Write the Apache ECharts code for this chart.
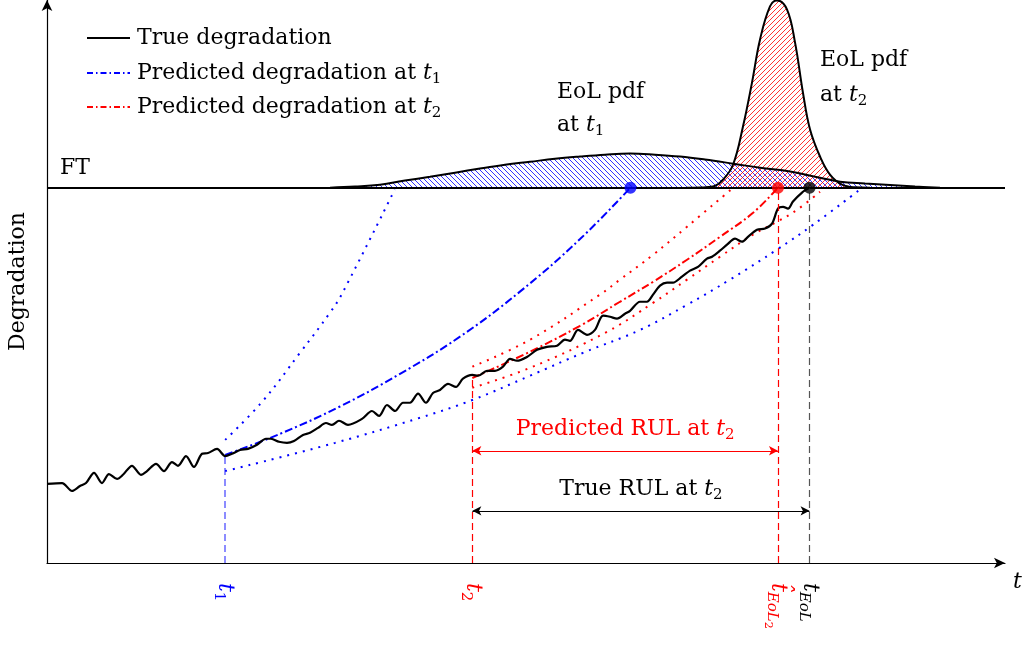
<!DOCTYPE html>
<html>
<head>
<meta charset="utf-8">
<script src="https://cdn.jsdelivr.net/npm/echarts@6/dist/echarts.min.js"></script>
<style>
  html, body { margin: 0; padding: 0; background: #fff; }
  #chart { width: 1022px; height: 646px; }
</style>
</head>
<body>
<div id="chart"></div>
<script>
// ---- Schematic values (time in arbitrary units 0..100, degradation with FT = 1) ----
const FT = 1.0;
const t1 = 18.6;        // first prediction time
const t2 = 44.4;        // second prediction time
const tEoLhat = 76.3;   // predicted end of life at t2
const tEoL = 79.6;      // true end of life
const tEoLt1 = 60.9;    // predicted end of life at t1
const rulPredLevel = 0.299;
const rulTrueLevel = 0.139;

// true (noisy) degradation path [time, degradation]
const trueDegradation = [
  [0, 0.211], [1.57, 0.213], [2.61, 0.192], [3.44, 0.205], [4.07, 0.213], [4.91, 0.240],
  [5.74, 0.213], [6.47, 0.237], [7.31, 0.224], [7.93, 0.235], [8.87, 0.259], [9.81, 0.235],
  [10.44, 0.245], [11.38, 0.264], [12.21, 0.245], [13.05, 0.269], [13.67, 0.259], [14.51, 0.285],
  [15.34, 0.256], [16.18, 0.291], [16.81, 0.293], [17.75, 0.304], [18.6, 0.285], [19.31, 0.291],
  [20.15, 0.301], [20.98, 0.304], [21.92, 0.315], [22.86, 0.331], [23.38, 0.331], [24.22, 0.323],
  [25.05, 0.320], [25.78, 0.325], [26.72, 0.341], [27.45, 0.347], [28.29, 0.360], [29.12, 0.373],
  [29.75, 0.368], [30.48, 0.379], [31.42, 0.368], [32.88, 0.384], [33.92, 0.405], [34.66, 0.392],
  [35.49, 0.421], [36.33, 0.405], [37.16, 0.427], [37.89, 0.427], [38.73, 0.451], [39.56, 0.427],
  [40.29, 0.453], [41.02, 0.461], [41.86, 0.477], [42.69, 0.469], [43.42, 0.491], [44.4, 0.501],
  [44.99, 0.499], [45.93, 0.512], [46.76, 0.512], [47.60, 0.523], [48.33, 0.544], [49.06, 0.539],
  [50.10, 0.549], [51.15, 0.568], [52.19, 0.576], [53.24, 0.579], [54.07, 0.595], [54.59, 0.592],
  [55.43, 0.621], [56.37, 0.608], [57.20, 0.621], [58.04, 0.659], [58.77, 0.656], [59.50, 0.651],
  [60.33, 0.664], [60.86, 0.672], [61.90, 0.696], [62.63, 0.696], [63.26, 0.715], [63.99, 0.739],
  [64.72, 0.747], [65.34, 0.747], [66.28, 0.763], [67.12, 0.779], [67.95, 0.789], [68.89, 0.811],
  [69.42, 0.816], [70.25, 0.832], [70.98, 0.848], [71.82, 0.864], [72.55, 0.856], [73.17, 0.869],
  [74.11, 0.888], [74.95, 0.891], [75.68, 0.904], [76.30, 0.944], [76.83, 0.949], [77.35, 0.944],
  [77.87, 0.963], [78.81, 0.987], [79.6, 1.0]
];

// prediction made at t1: mean and bounds
const predT1 = [[18.6, 0.288], [24.32, 0.344], [30.58, 0.417], [36.85, 0.504], [43.11, 0.603],
  [49.37, 0.723], [55.64, 0.863], [60.9, 1.0]];
const predT1Upper = [[18.6, 0.328], [22.44, 0.429], [26.41, 0.560], [29.54, 0.667], [30.79, 0.717],
  [36.3, 0.995]];
const predT1Lower = [[18.6, 0.245], [30.06, 0.320], [38.94, 0.387], [44.47, 0.435], [50.42, 0.499],
  [55.95, 0.560], [61.90, 0.621], [66.81, 0.688], [71.29, 0.755], [76.20, 0.835], [79.96, 0.901],
  [84.86, 0.995]];

// prediction made at t2: mean and bounds
const predT2 = [[44.4, 0.493], [50.42, 0.563], [55.64, 0.632], [59.81, 0.696], [63.26, 0.749],
  [66.81, 0.808], [70.25, 0.869], [73.70, 0.933], [76.3, 1.0]];
const predT2Upper = [[44.4, 0.523], [50.42, 0.595], [57.72, 0.715], [59.81, 0.755], [63.26, 0.821],
  [66.81, 0.896], [71.50, 0.997]];
const predT2Lower = [[44.4, 0.467], [50.42, 0.520], [58.46, 0.616], [63.26, 0.693], [66.81, 0.755],
  [70.25, 0.816], [73.70, 0.875], [76.20, 0.909], [78.29, 0.941], [80.69, 0.989]];

// end-of-life densities, height above FT [time, density height]
const eolPdfT1 = [[29.54, 0], [32.15, 0.003], [34.76, 0.008], [37.37, 0.019], [39.98, 0.029],
  [42.59, 0.040], [45.20, 0.051], [47.81, 0.061], [50.42, 0.069], [53.03, 0.077], [55.64, 0.083],
  [58.25, 0.088], [60.86, 0.091], [63.47, 0.088], [66.08, 0.083], [68.68, 0.075], [71.61, 0.064],
  [74.43, 0.053], [77.56, 0.043], [80.17, 0.029], [82.78, 0.016], [85.39, 0.011], [88.00, 0.007],
  [90.61, 0.003], [93.22, 0]];
const eolPdfT2 = [[66.8, 0], [68.16, 0.0005], [69.52, 0.003], [70.56, 0.021], [71.61, 0.061], [72.65, 0.163],
  [73.59, 0.280], [74.43, 0.395], [75.47, 0.483], [76.20, 0.499], [77.24, 0.475], [78.08, 0.387],
  [78.91, 0.253], [79.65, 0.155], [80.69, 0.083], [81.73, 0.035], [82.99, 0.008], [84.34, 0.001],
  [85.91, 0]];

// x-axis tick marks and their labels
const tickValues = [t1, t2, tEoLhat, tEoL];
const tickLabels = ['{b|t}{bs|1}', '{r|t}{rs|2}', '{r|t\u0302}{rsi|EoL}{rss|2}', '{k|t}{ksi|EoL}'];

// ---- styling helpers ----
const FONT = 'DejaVu Serif';
const BLUE = '#0000ff', RED = '#ff0000', BLACK = '#000000';

function styleSet(p, color) {
  return {
    [p + 'n']: { fontFamily: FONT, fontSize: 22, color: color },
    [p]: { fontFamily: FONT, fontSize: 22, fontStyle: 'italic', color: color },
    [p + 's']: { fontFamily: FONT, fontSize: 15, color: color, padding: [12, 0, 0, 0] },
    [p + 'si']: { fontFamily: FONT, fontSize: 15, fontStyle: 'italic', color: color, padding: [12, 0, 0, 0] },
    [p + 'ss']: { fontFamily: FONT, fontSize: 11, color: color, padding: [20, 0, 0, 0] }
  };
}
const richAll = Object.assign({}, styleSet('b', BLUE), styleSet('r', RED), styleSet('k', BLACK));

// diagonal hatch tile: dir > 0 draws "/" lines, otherwise "\" lines
function hatch(color, dir) {
  const s = 5;
  const c = document.createElement('canvas');
  c.width = s; c.height = s;
  const g = c.getContext('2d');
  g.strokeStyle = color;
  g.lineWidth = 0.8;
  for (const o of [-s, 0, s]) {
    g.beginPath();
    if (dir > 0) { g.moveTo(o, s); g.lineTo(o + s, 0); }
    else { g.moveTo(o, 0); g.lineTo(o + s, s); }
    g.stroke();
  }
  return c;
}
const blueHatch = hatch(BLUE, -1);
const redHatch = hatch(RED, 1);

const dashDot = [8, 3, 2, 3];
const dotted = [2, 6];

function curve(name, data, color, type, extra) {
  return Object.assign({
    name: name, type: 'line', data: data, symbol: 'none', smooth: 0.4,
    lineStyle: { color: color, width: 2, type: type }, silent: true, z: 3
  }, extra || {});
}

const chart = echarts.init(document.getElementById('chart'), null, { renderer: 'canvas' });

const option = {
  animation: false,
  backgroundColor: '#ffffff',
  grid: { left: 47, right: 17, top: 0, bottom: 83, outerBoundsMode: 'none', containLabel: false },
  xAxis: {
    type: 'value', min: 0, max: 100,
    name: 't', nameLocation: 'end', nameGap: 8,
    nameTextStyle: { fontFamily: FONT, fontStyle: 'italic', fontSize: 22, color: BLACK,
      verticalAlign: 'top', padding: [8, 0, 0, 0] },
    axisLine: { symbol: ['none', 'arrow'], symbolSize: [8, 11], lineStyle: { color: BLACK, width: 1.2 } },
    axisTick: { show: false },
    splitLine: { show: false },
    axisLabel: {
      customValues: tickValues,
      rotate: -90, margin: 20,
      formatter: function (v) {
        const k = tickValues.indexOf(v);
        return k >= 0 ? tickLabels[k] : '';
      },
      rich: richAll
    }
  },
  yAxis: {
    type: 'value', min: 0, max: 1.5,
    name: 'Degradation', nameLocation: 'middle', nameRotate: 90, nameGap: 18,
    nameTextStyle: { fontFamily: FONT, fontSize: 22, color: BLACK },
    axisLine: { show: true, symbol: ['none', 'arrow'], symbolSize: [8, 11], lineStyle: { color: BLACK, width: 1.2 } },
    axisTick: { show: false }, axisLabel: { show: false }, splitLine: { show: false }
  },
  series: [
    curve('EoL pdf at t1', eolPdfT1.map(p => [p[0], FT + p[1]]), BLACK, 'solid', {
      areaStyle: { origin: FT, opacity: 1, color: { image: blueHatch, repeat: 'repeat' } }, z: 2
    }),
    curve('EoL pdf at t2', eolPdfT2.map(p => [p[0], FT + p[1]]), BLACK, 'solid', {
      areaStyle: { origin: FT, opacity: 1, color: { image: redHatch, repeat: 'repeat' } }, z: 2
    }),
    curve('Predicted degradation at t1', predT1, BLUE, dashDot),
    curve('Upper bound at t1', predT1Upper, BLUE, dotted),
    curve('Lower bound at t1', predT1Lower, BLUE, dotted),
    curve('Predicted degradation at t2', predT2, RED, dashDot),
    curve('Upper bound at t2', predT2Upper, RED, dotted),
    curve('Lower bound at t2', predT2Lower, RED, dotted),
    curve('True degradation', trueDegradation, BLACK, 'solid', {
      smooth: 0.3, z: 4,
      lineStyle: { color: BLACK, width: 2.2, type: 'solid' },
      markLine: {
        silent: true, symbol: 'none', animation: false,
        label: { show: false },
        data: [
          { yAxis: FT, lineStyle: { color: BLACK, width: 2, type: 'solid' },
            label: { show: true, formatter: 'FT', position: 'insideStartTop', distance: [13, 8],
              fontFamily: FONT, fontSize: 22, color: BLACK } },
          [{ coord: [t1, 0], lineStyle: { color: 'rgba(0,0,255,0.6)', width: 1.5, type: [7, 4] } },
           { coord: [t1, predT1[0][1]] }],
          [{ coord: [t2, 0], lineStyle: { color: RED, width: 1.2, type: [7, 4] } },
           { coord: [t2, predT2[0][1]] }],
          [{ coord: [tEoLhat, 0], lineStyle: { color: RED, width: 1.2, type: [7, 4] } },
           { coord: [tEoLhat, FT] }],
          [{ coord: [tEoL, 0], lineStyle: { color: '#555555', width: 1.2, type: [7, 4] } },
           { coord: [tEoL, FT] }],
          [{ coord: [t2, rulPredLevel], symbol: 'arrow', symbolSize: [7, 9],
             lineStyle: { color: RED, width: 1, type: 'solid' },
             label: { show: true, position: 'middle', distance: 8,
               formatter: '{rn|Predicted RUL at }{r|t}{rs|2}', rich: richAll } },
           { coord: [tEoLhat, rulPredLevel], symbol: 'arrow', symbolSize: [7, 9] }],
          [{ coord: [t2, rulTrueLevel], symbol: 'arrow', symbolSize: [7, 9],
             lineStyle: { color: BLACK, width: 1, type: 'solid' },
             label: { show: true, position: 'middle', distance: 8,
               formatter: '{kn|True RUL at }{k|t}{ks|2}', rich: richAll } },
           { coord: [tEoL, rulTrueLevel], symbol: 'arrow', symbolSize: [7, 9] }]
        ]
      }
    }),
    {
      name: 'EoL points', type: 'scatter', symbolSize: 12, z: 6, silent: true,
      data: [
        { value: [tEoLt1, FT], itemStyle: { color: BLUE } },
        { value: [tEoLhat, FT], itemStyle: { color: RED } },
        { value: [tEoL, FT], itemStyle: { color: BLACK } }
      ]
    }
  ],
  graphic: [
    { type: 'line', shape: { x1: 87, y1: 38, x2: 130, y2: 38 }, style: { stroke: BLACK, lineWidth: 2 } },
    { type: 'line', shape: { x1: 87, y1: 73, x2: 130, y2: 73 }, style: { stroke: BLUE, lineWidth: 2, lineDash: [6, 3, 1.5, 3] } },
    { type: 'line', shape: { x1: 87, y1: 107, x2: 130, y2: 107 }, style: { stroke: RED, lineWidth: 2, lineDash: [6, 3, 1.5, 3] } },
    { type: 'text', x: 137, y: 38, style: { text: '{kn|True degradation}', rich: richAll, verticalAlign: 'middle' } },
    { type: 'text', x: 137, y: 73, style: { text: '{bn|Predicted degradation at }{b|t}{bs|1}', rich: richAll, verticalAlign: 'middle' } },
    { type: 'text', x: 137, y: 107, style: { text: '{rn|Predicted degradation at }{r|t}{rs|2}', rich: richAll, verticalAlign: 'middle' } },
    { type: 'text', x: 557, y: 92, style: { text: '{bn|EoL pdf}', rich: richAll, verticalAlign: 'middle' } },
    { type: 'text', x: 557, y: 125, style: { text: '{bn|at }{b|t}{bs|1}', rich: richAll, verticalAlign: 'middle' } },
    { type: 'text', x: 820, y: 60, style: { text: '{rn|EoL pdf}', rich: richAll, verticalAlign: 'middle' } },
    { type: 'text', x: 820, y: 95, style: { text: '{rn|at }{r|t}{rs|2}', rich: richAll, verticalAlign: 'middle' } }
  ]
};

chart.setOption(option);
</script>
</body>
</html>
